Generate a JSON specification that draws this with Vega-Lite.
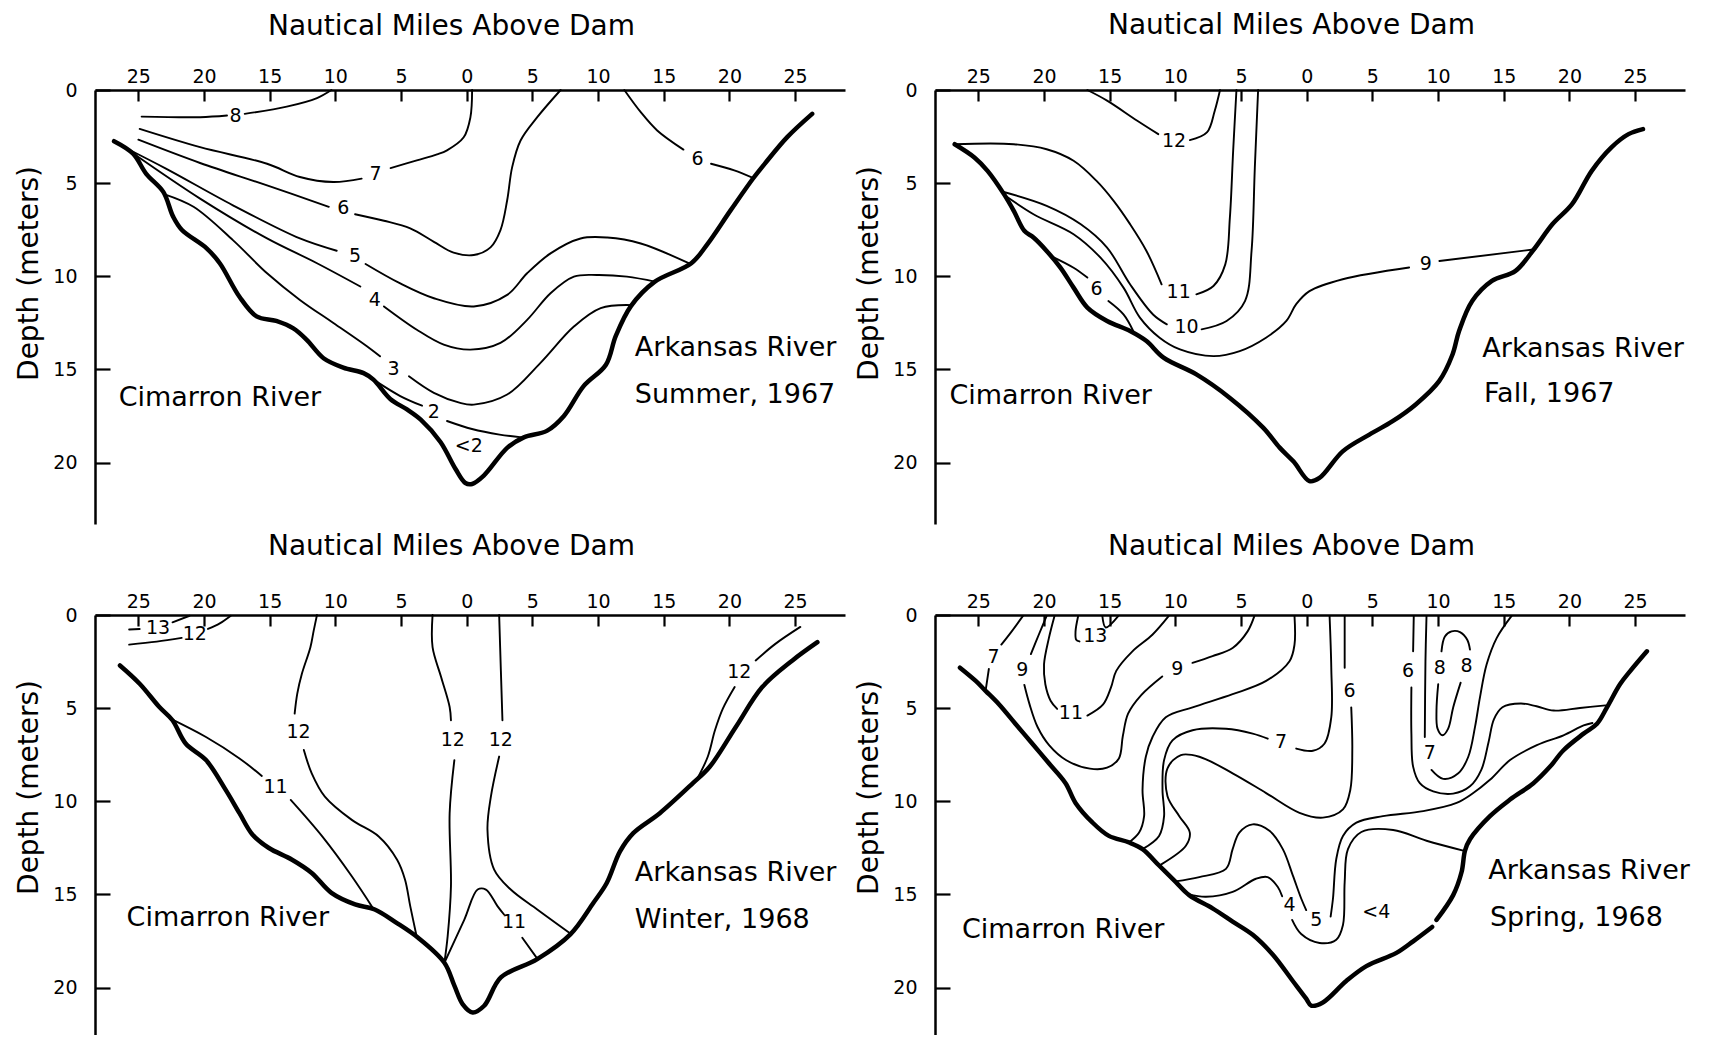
{
  "$schema": "https://vega.github.io/schema/vega-lite/v6.json",
  "padding": {"left": 15, "top": 11, "right": 5, "bottom": 0},
  "data": {"values": [
    {"p":"TL","k":"bed","s":"b","m":-26.85,"d":2.75},{"p":"TL","k":"bed","s":"b","m":-25.4,"d":3.42},{"p":"TL","k":"bed","s":"b","m":-24.4,"d":4.5},{"p":"TL","k":"bed","s":"b","m":-23.1,"d":5.47},{"p":"TL","k":"bed","s":"b","m":-22.35,"d":6.8},{"p":"TL","k":"bed","s":"b","m":-21.7,"d":7.5},{"p":"TL","k":"bed","s":"b","m":-19.8,"d":8.5},{"p":"TL","k":"bed","s":"b","m":-18.8,"d":9.3},{"p":"TL","k":"bed","s":"b","m":-17.3,"d":11.1},{"p":"TL","k":"bed","s":"b","m":-16.0,"d":12.15},{"p":"TL","k":"bed","s":"b","m":-14.5,"d":12.4},{"p":"TL","k":"bed","s":"b","m":-13.2,"d":12.8},{"p":"TL","k":"bed","s":"b","m":-12.2,"d":13.4},{"p":"TL","k":"bed","s":"b","m":-10.9,"d":14.4},{"p":"TL","k":"bed","s":"b","m":-9.4,"d":14.9},{"p":"TL","k":"bed","s":"b","m":-7.85,"d":15.2},{"p":"TL","k":"bed","s":"b","m":-7.1,"d":15.55},{"p":"TL","k":"bed","s":"b","m":-5.8,"d":16.6},{"p":"TL","k":"bed","s":"b","m":-4.55,"d":17.15},{"p":"TL","k":"bed","s":"b","m":-3.5,"d":17.7},{"p":"TL","k":"bed","s":"b","m":-2.0,"d":18.9},{"p":"TL","k":"bed","s":"b","m":-0.85,"d":20.35},{"p":"TL","k":"bed","s":"b","m":-0.1,"d":21.1},{"p":"TL","k":"bed","s":"b","m":0.41,"d":21.15},{"p":"TL","k":"bed","s":"b","m":1.3,"d":20.7},{"p":"TL","k":"bed","s":"b","m":3.1,"d":19.2},{"p":"TL","k":"bed","s":"b","m":4.35,"d":18.65},{"p":"TL","k":"bed","s":"b","m":6.1,"d":18.3},{"p":"TL","k":"bed","s":"b","m":7.4,"d":17.5},{"p":"TL","k":"bed","s":"b","m":8.9,"d":15.9},{"p":"TL","k":"bed","s":"b","m":10.6,"d":14.75},{"p":"TL","k":"bed","s":"b","m":11.35,"d":13.2},{"p":"TL","k":"bed","s":"b","m":12.5,"d":11.6},{"p":"TL","k":"bed","s":"b","m":14.3,"d":10.3},{"p":"TL","k":"bed","s":"b","m":17.1,"d":9.3},{"p":"TL","k":"bed","s":"b","m":18.3,"d":8.3},{"p":"TL","k":"bed","s":"b","m":20.1,"d":6.45},{"p":"TL","k":"bed","s":"b","m":21.8,"d":4.75},{"p":"TL","k":"bed","s":"b","m":22.7,"d":3.95},{"p":"TL","k":"bed","s":"b","m":24.4,"d":2.53},{"p":"TL","k":"bed","s":"b","m":26.3,"d":1.28},

    {"p":"TL","k":"ln","s":"8a","m":-24.75,"d":1.43},{"p":"TL","k":"ln","s":"8a","m":-20.3,"d":1.46},{"p":"TL","k":"ln","s":"8a","m":-18.25,"d":1.37},
    {"p":"TL","k":"lab","m":-17.6,"d":1.4,"t":"8"},
    {"p":"TL","k":"ln","s":"8b","m":-16.9,"d":1.28},{"p":"TL","k":"ln","s":"8b","m":-13.7,"d":0.89},{"p":"TL","k":"ln","s":"8b","m":-11.4,"d":0.43},{"p":"TL","k":"ln","s":"8b","m":-10.3,"d":0},
    {"p":"TL","k":"ln","s":"7a","m":-24.9,"d":2.09},{"p":"TL","k":"ln","s":"7a","m":-20.3,"d":3.07},{"p":"TL","k":"ln","s":"7a","m":-15.2,"d":3.96},{"p":"TL","k":"ln","s":"7a","m":-12.7,"d":4.67},{"p":"TL","k":"ln","s":"7a","m":-10.15,"d":4.94},{"p":"TL","k":"ln","s":"7a","m":-8.0,"d":4.76},
    {"p":"TL","k":"lab","m":-6.95,"d":4.5,"t":"7"},
    {"p":"TL","k":"ln","s":"7b","m":-5.8,"d":4.19},{"p":"TL","k":"ln","s":"7b","m":-3.8,"d":3.78},{"p":"TL","k":"ln","s":"7b","m":-2.26,"d":3.46},{"p":"TL","k":"ln","s":"7b","m":-1.5,"d":3.24},{"p":"TL","k":"ln","s":"7b","m":-0.23,"d":2.54},{"p":"TL","k":"ln","s":"7b","m":0.28,"d":1.47},{"p":"TL","k":"ln","s":"7b","m":0.41,"d":0},
    {"p":"TL","k":"ln","s":"6a","m":-25.0,"d":2.67},{"p":"TL","k":"ln","s":"6a","m":-20.3,"d":3.92},{"p":"TL","k":"ln","s":"6a","m":-15.2,"d":5.12},{"p":"TL","k":"ln","s":"6a","m":-10.5,"d":6.27},
    {"p":"TL","k":"lab","m":-9.4,"d":6.36,"t":"6"},
    {"p":"TL","k":"ln","s":"6b","m":-8.5,"d":6.67},{"p":"TL","k":"ln","s":"6b","m":-6.3,"d":7.02},{"p":"TL","k":"ln","s":"6b","m":-4.3,"d":7.43},{"p":"TL","k":"ln","s":"6b","m":-2.5,"d":8.15},{"p":"TL","k":"ln","s":"6b","m":-1.0,"d":8.73},{"p":"TL","k":"ln","s":"6b","m":0.54,"d":8.86},{"p":"TL","k":"ln","s":"6b","m":1.81,"d":8.45},{"p":"TL","k":"ln","s":"6b","m":2.57,"d":7.52},{"p":"TL","k":"ln","s":"6b","m":3.08,"d":5.92},{"p":"TL","k":"ln","s":"6b","m":3.46,"d":4.14},{"p":"TL","k":"ln","s":"6b","m":4.1,"d":2.71},{"p":"TL","k":"ln","s":"6b","m":5.37,"d":1.46},{"p":"TL","k":"ln","s":"6b","m":7.15,"d":0},
    {"p":"TL","k":"ln","s":"5a","m":-26.0,"d":3.1},{"p":"TL","k":"ln","s":"5a","m":-22.9,"d":4.22},{"p":"TL","k":"ln","s":"5a","m":-17.8,"d":6.19},{"p":"TL","k":"ln","s":"5a","m":-12.7,"d":7.97},{"p":"TL","k":"ln","s":"5a","m":-9.9,"d":8.63},
    {"p":"TL","k":"lab","m":-8.5,"d":8.9,"t":"5"},
    {"p":"TL","k":"ln","s":"5b","m":-7.7,"d":9.34},{"p":"TL","k":"ln","s":"5b","m":-5.1,"d":10.37},{"p":"TL","k":"ln","s":"5b","m":-2.5,"d":11.18},{"p":"TL","k":"ln","s":"5b","m":0.54,"d":11.62},{"p":"TL","k":"ln","s":"5b","m":3.08,"d":11.0},{"p":"TL","k":"ln","s":"5b","m":4.6,"d":9.84},{"p":"TL","k":"ln","s":"5b","m":6.38,"d":8.77},{"p":"TL","k":"ln","s":"5b","m":8.67,"d":7.97},{"p":"TL","k":"ln","s":"5b","m":10.7,"d":7.92},{"p":"TL","k":"ln","s":"5b","m":13.25,"d":8.24},{"p":"TL","k":"ln","s":"5b","m":16.9,"d":9.3},
    {"p":"TL","k":"ln","s":"4a","m":-25.3,"d":3.45},{"p":"TL","k":"ln","s":"4a","m":-20.3,"d":5.83},{"p":"TL","k":"ln","s":"4a","m":-15.2,"d":7.97},{"p":"TL","k":"ln","s":"4a","m":-11.4,"d":9.3},{"p":"TL","k":"ln","s":"4a","m":-8.1,"d":10.55},
    {"p":"TL","k":"lab","m":-7.0,"d":11.3,"t":"4"},
    {"p":"TL","k":"ln","s":"4b","m":-6.3,"d":11.62},{"p":"TL","k":"ln","s":"4b","m":-3.8,"d":12.87},{"p":"TL","k":"ln","s":"4b","m":-1.75,"d":13.67},{"p":"TL","k":"ln","s":"4b","m":0.28,"d":13.94},{"p":"TL","k":"ln","s":"4b","m":2.57,"d":13.58},{"p":"TL","k":"ln","s":"4b","m":4.6,"d":12.34},{"p":"TL","k":"ln","s":"4b","m":6.38,"d":10.91},{"p":"TL","k":"ln","s":"4b","m":8.16,"d":10.02},{"p":"TL","k":"ln","s":"4b","m":9.95,"d":9.93},{"p":"TL","k":"ln","s":"4b","m":12.2,"d":10.02},{"p":"TL","k":"ln","s":"4b","m":14.4,"d":10.3},
    {"p":"TL","k":"ln","s":"3a","m":-23.0,"d":5.6},{"p":"TL","k":"ln","s":"3a","m":-20.8,"d":6.27},{"p":"TL","k":"ln","s":"3a","m":-17.8,"d":8.06},{"p":"TL","k":"ln","s":"3a","m":-15.2,"d":9.84},{"p":"TL","k":"ln","s":"3a","m":-12.7,"d":11.27},{"p":"TL","k":"ln","s":"3a","m":-10.15,"d":12.51},{"p":"TL","k":"ln","s":"3a","m":-7.6,"d":13.76},{"p":"TL","k":"ln","s":"3a","m":-6.6,"d":14.3},
    {"p":"TL","k":"lab","m":-5.57,"d":15.0,"t":"3"},
    {"p":"TL","k":"ln","s":"3b","m":-4.4,"d":15.37},{"p":"TL","k":"ln","s":"3b","m":-2.5,"d":16.26},{"p":"TL","k":"ln","s":"3b","m":-0.5,"d":16.8},{"p":"TL","k":"ln","s":"3b","m":0.54,"d":16.89},{"p":"TL","k":"ln","s":"3b","m":3.08,"d":16.35},{"p":"TL","k":"ln","s":"3b","m":5.6,"d":14.66},{"p":"TL","k":"ln","s":"3b","m":8.16,"d":12.7},{"p":"TL","k":"ln","s":"3b","m":10.2,"d":11.71},{"p":"TL","k":"ln","s":"3b","m":12.6,"d":11.55},
    {"p":"TL","k":"ln","s":"2a","m":-7.1,"d":15.55},{"p":"TL","k":"ln","s":"2a","m":-5.06,"d":16.43},{"p":"TL","k":"ln","s":"2a","m":-3.4,"d":16.95},
    {"p":"TL","k":"lab","m":-2.5,"d":17.3,"t":"2"},
    {"p":"TL","k":"ln","s":"2b","m":-1.5,"d":17.77},{"p":"TL","k":"ln","s":"2b","m":0.4,"d":18.2},{"p":"TL","k":"ln","s":"2b","m":2.5,"d":18.5},{"p":"TL","k":"ln","s":"2b","m":4.2,"d":18.65},
    {"p":"TL","k":"lab","m":0.16,"d":19.1,"t":"<2"},
    {"p":"TL","k":"ln","s":"6Ra","m":12.0,"d":0},{"p":"TL","k":"ln","s":"6Ra","m":13.25,"d":1.19},{"p":"TL","k":"ln","s":"6Ra","m":14.5,"d":2.17},{"p":"TL","k":"ln","s":"6Ra","m":16.5,"d":3.2},
    {"p":"TL","k":"lab","m":17.57,"d":3.69,"t":"6"},
    {"p":"TL","k":"ln","s":"6Rb","m":18.6,"d":3.96},{"p":"TL","k":"ln","s":"6Rb","m":20.37,"d":4.31},{"p":"TL","k":"ln","s":"6Rb","m":21.8,"d":4.72},
    {"p":"TL","k":"txt","m":-26.5,"d":16.52,"t":"Cimarron River"},
    {"p":"TL","k":"txt","m":12.8,"d":13.85,"t":"Arkansas River"},
    {"p":"TL","k":"txt","m":12.8,"d":16.35,"t":"Summer, 1967"},

    {"p":"TR","k":"bed","s":"b","m":-26.8,"d":2.91},{"p":"TR","k":"bed","s":"b","m":-25.3,"d":3.62},{"p":"TR","k":"bed","s":"b","m":-24.3,"d":4.34},{"p":"TR","k":"bed","s":"b","m":-23.05,"d":5.59},{"p":"TR","k":"bed","s":"b","m":-22.3,"d":6.49},{"p":"TR","k":"bed","s":"b","m":-21.5,"d":7.56},{"p":"TR","k":"bed","s":"b","m":-20.8,"d":7.92},{"p":"TR","k":"bed","s":"b","m":-19.8,"d":8.64},{"p":"TR","k":"bed","s":"b","m":-18.75,"d":9.54},{"p":"TR","k":"bed","s":"b","m":-17.75,"d":10.61},{"p":"TR","k":"bed","s":"b","m":-16.7,"d":11.68},{"p":"TR","k":"bed","s":"b","m":-15.2,"d":12.4},{"p":"TR","k":"bed","s":"b","m":-13.45,"d":12.94},{"p":"TR","k":"bed","s":"b","m":-12.2,"d":13.48},{"p":"TR","k":"bed","s":"b","m":-10.9,"d":14.37},{"p":"TR","k":"bed","s":"b","m":-8.4,"d":15.27},{"p":"TR","k":"bed","s":"b","m":-5.85,"d":16.53},{"p":"TR","k":"bed","s":"b","m":-3.3,"d":18.14},{"p":"TR","k":"bed","s":"b","m":-2.06,"d":19.2},{"p":"TR","k":"bed","s":"b","m":-1.0,"d":19.95},{"p":"TR","k":"bed","s":"b","m":0.21,"d":21.0},{"p":"TR","k":"bed","s":"b","m":0.97,"d":20.83},{"p":"TR","k":"bed","s":"b","m":2.74,"d":19.4},{"p":"TR","k":"bed","s":"b","m":4.77,"d":18.5},{"p":"TR","k":"bed","s":"b","m":6.54,"d":17.78},{"p":"TR","k":"bed","s":"b","m":8.3,"d":16.88},{"p":"TR","k":"bed","s":"b","m":10.08,"d":15.63},{"p":"TR","k":"bed","s":"b","m":11.1,"d":14.2},{"p":"TR","k":"bed","s":"b","m":11.6,"d":12.94},{"p":"TR","k":"bed","s":"b","m":12.6,"d":11.33},{"p":"TR","k":"bed","s":"b","m":14.1,"d":10.25},{"p":"TR","k":"bed","s":"b","m":15.9,"d":9.71},{"p":"TR","k":"bed","s":"b","m":17.3,"d":8.55},{"p":"TR","k":"bed","s":"b","m":18.7,"d":7.21},{"p":"TR","k":"bed","s":"b","m":20.2,"d":6.13},{"p":"TR","k":"bed","s":"b","m":21.7,"d":4.34},{"p":"TR","k":"bed","s":"b","m":23.2,"d":3.08},{"p":"TR","k":"bed","s":"b","m":24.5,"d":2.37},{"p":"TR","k":"bed","s":"b","m":25.6,"d":2.1},

    {"p":"TR","k":"ln","s":"12a","m":-16.7,"d":0},{"p":"TR","k":"ln","s":"12a","m":-15.2,"d":0.57},{"p":"TR","k":"ln","s":"12a","m":-12.9,"d":1.65},{"p":"TR","k":"ln","s":"12a","m":-11.3,"d":2.37},
    {"p":"TR","k":"lab","m":-10.1,"d":2.73,"t":"12"},
    {"p":"TR","k":"ln","s":"12b","m":-8.9,"d":2.69},{"p":"TR","k":"ln","s":"12b","m":-7.6,"d":2.28},{"p":"TR","k":"ln","s":"12b","m":-7.0,"d":1.11},{"p":"TR","k":"ln","s":"12b","m":-6.6,"d":0},
    {"p":"TR","k":"ln","s":"11a","m":-26.8,"d":2.91},{"p":"TR","k":"ln","s":"11a","m":-22.3,"d":2.91},{"p":"TR","k":"ln","s":"11a","m":-19.8,"d":3.18},{"p":"TR","k":"ln","s":"11a","m":-17.75,"d":3.8},{"p":"TR","k":"ln","s":"11a","m":-16.0,"d":4.88},{"p":"TR","k":"ln","s":"11a","m":-14.7,"d":5.95},{"p":"TR","k":"ln","s":"11a","m":-13.45,"d":7.2},{"p":"TR","k":"ln","s":"11a","m":-12.2,"d":8.64},{"p":"TR","k":"ln","s":"11a","m":-11.05,"d":10.43},
    {"p":"TR","k":"lab","m":-9.75,"d":10.85,"t":"11"},
    {"p":"TR","k":"ln","s":"11b","m":-8.4,"d":10.97},{"p":"TR","k":"ln","s":"11b","m":-7.1,"d":10.52},{"p":"TR","k":"ln","s":"11b","m":-6.2,"d":9.36},{"p":"TR","k":"ln","s":"11b","m":-5.85,"d":6.85},{"p":"TR","k":"ln","s":"11b","m":-5.6,"d":3.26},{"p":"TR","k":"ln","s":"11b","m":-5.35,"d":0},
    {"p":"TR","k":"ln","s":"10a","m":-23.2,"d":5.45},{"p":"TR","k":"ln","s":"10a","m":-19.8,"d":6.22},{"p":"TR","k":"ln","s":"10a","m":-17.2,"d":7.21},{"p":"TR","k":"ln","s":"10a","m":-15.2,"d":8.46},{"p":"TR","k":"ln","s":"10a","m":-13.45,"d":10.43},{"p":"TR","k":"ln","s":"10a","m":-11.7,"d":12.05},{"p":"TR","k":"ln","s":"10a","m":-10.65,"d":12.58},
    {"p":"TR","k":"lab","m":-9.15,"d":12.7,"t":"10"},
    {"p":"TR","k":"ln","s":"10b","m":-8.0,"d":12.85},{"p":"TR","k":"ln","s":"10b","m":-6.1,"d":12.4},{"p":"TR","k":"ln","s":"10b","m":-4.7,"d":11.33},{"p":"TR","k":"ln","s":"10b","m":-4.2,"d":8.64},{"p":"TR","k":"ln","s":"10b","m":-3.95,"d":4.16},{"p":"TR","k":"ln","s":"10b","m":-3.7,"d":0},
    {"p":"TR","k":"ln","s":"9a","m":-23.1,"d":5.6},{"p":"TR","k":"ln","s":"9a","m":-20.8,"d":6.67},{"p":"TR","k":"ln","s":"9a","m":-17.75,"d":7.74},{"p":"TR","k":"ln","s":"9a","m":-15.7,"d":9.0},{"p":"TR","k":"ln","s":"9a","m":-13.95,"d":10.61},{"p":"TR","k":"ln","s":"9a","m":-12.7,"d":12.22},{"p":"TR","k":"ln","s":"9a","m":-11.2,"d":13.3},{"p":"TR","k":"ln","s":"9a","m":-9.65,"d":13.93},{"p":"TR","k":"ln","s":"9a","m":-7.1,"d":14.29},{"p":"TR","k":"ln","s":"9a","m":-5.1,"d":14.02},{"p":"TR","k":"ln","s":"9a","m":-3.1,"d":13.3},{"p":"TR","k":"ln","s":"9a","m":-1.55,"d":12.4},{"p":"TR","k":"ln","s":"9a","m":-0.8,"d":11.5},{"p":"TR","k":"ln","s":"9a","m":0.21,"d":10.8},{"p":"TR","k":"ln","s":"9a","m":2.74,"d":10.16},{"p":"TR","k":"ln","s":"9a","m":7.8,"d":9.53},
    {"p":"TR","k":"lab","m":9.07,"d":9.36,"t":"9"},
    {"p":"TR","k":"ln","s":"9b","m":10.1,"d":9.18},{"p":"TR","k":"ln","s":"9b","m":17.4,"d":8.55},
    {"p":"TR","k":"ln","s":"6a","m":-19.5,"d":8.9},{"p":"TR","k":"ln","s":"6a","m":-17.75,"d":9.54},{"p":"TR","k":"ln","s":"6a","m":-16.7,"d":10.07},
    {"p":"TR","k":"lab","m":-16.0,"d":10.7,"t":"6"},
    {"p":"TR","k":"ln","s":"6b","m":-15.1,"d":11.33},{"p":"TR","k":"ln","s":"6b","m":-13.95,"d":12.05},{"p":"TR","k":"ln","s":"6b","m":-13.2,"d":12.95},
    {"p":"TR","k":"txt","m":-27.2,"d":16.44,"t":"Cimarron River"},
    {"p":"TR","k":"txt","m":13.37,"d":13.92,"t":"Arkansas River"},
    {"p":"TR","k":"txt","m":13.5,"d":16.34,"t":"Fall, 1967"},

    {"p":"BL","k":"bed","s":"b","m":-26.4,"d":2.71},{"p":"BL","k":"bed","s":"b","m":-24.9,"d":3.69},{"p":"BL","k":"bed","s":"b","m":-23.4,"d":4.94},{"p":"BL","k":"bed","s":"b","m":-22.4,"d":5.65},{"p":"BL","k":"bed","s":"b","m":-21.4,"d":6.9},{"p":"BL","k":"bed","s":"b","m":-19.85,"d":7.79},{"p":"BL","k":"bed","s":"b","m":-18.35,"d":9.39},{"p":"BL","k":"bed","s":"b","m":-17.3,"d":10.64},{"p":"BL","k":"bed","s":"b","m":-16.3,"d":11.8},{"p":"BL","k":"bed","s":"b","m":-15.06,"d":12.51},{"p":"BL","k":"bed","s":"b","m":-13.3,"d":13.14},{"p":"BL","k":"bed","s":"b","m":-11.8,"d":13.85},{"p":"BL","k":"bed","s":"b","m":-10.3,"d":14.92},{"p":"BL","k":"bed","s":"b","m":-8.5,"d":15.54},{"p":"BL","k":"bed","s":"b","m":-7.0,"d":15.81},{"p":"BL","k":"bed","s":"b","m":-5.4,"d":16.5},{"p":"BL","k":"bed","s":"b","m":-3.7,"d":17.33},{"p":"BL","k":"bed","s":"b","m":-1.7,"d":18.67},{"p":"BL","k":"bed","s":"b","m":-0.94,"d":19.9},{"p":"BL","k":"bed","s":"b","m":-0.3,"d":20.9},{"p":"BL","k":"bed","s":"b","m":0.45,"d":21.34},{"p":"BL","k":"bed","s":"b","m":1.33,"d":20.98},{"p":"BL","k":"bed","s":"b","m":2.6,"d":19.46},{"p":"BL","k":"bed","s":"b","m":5.37,"d":18.48},{"p":"BL","k":"bed","s":"b","m":7.89,"d":17.15},{"p":"BL","k":"bed","s":"b","m":9.65,"d":15.45},{"p":"BL","k":"bed","s":"b","m":10.66,"d":14.39},{"p":"BL","k":"bed","s":"b","m":11.67,"d":12.69},{"p":"BL","k":"bed","s":"b","m":12.68,"d":11.71},{"p":"BL","k":"bed","s":"b","m":14.7,"d":10.64},{"p":"BL","k":"bed","s":"b","m":17.2,"d":9.04},{"p":"BL","k":"bed","s":"b","m":18.5,"d":8.15},{"p":"BL","k":"bed","s":"b","m":20.5,"d":6.0},{"p":"BL","k":"bed","s":"b","m":22.5,"d":3.87},{"p":"BL","k":"bed","s":"b","m":24.8,"d":2.44},{"p":"BL","k":"bed","s":"b","m":26.7,"d":1.46},

    {"p":"BL","k":"ln","s":"13a","m":-25.7,"d":0.78},{"p":"BL","k":"ln","s":"13a","m":-24.9,"d":0.75},
    {"p":"BL","k":"lab","m":-23.5,"d":0.68,"t":"13"},
    {"p":"BL","k":"ln","s":"13b","m":-22.4,"d":0.39},{"p":"BL","k":"ln","s":"13b","m":-21.1,"d":0.04},
    {"p":"BL","k":"ln","s":"12aa","m":-25.7,"d":1.59},{"p":"BL","k":"ln","s":"12aa","m":-23.6,"d":1.43},{"p":"BL","k":"ln","s":"12aa","m":-21.7,"d":1.23},
    {"p":"BL","k":"lab","m":-20.7,"d":1.0,"t":"12"},
    {"p":"BL","k":"ln","s":"12ab","m":-19.7,"d":0.75},{"p":"BL","k":"ln","s":"12ab","m":-18.8,"d":0.45},{"p":"BL","k":"ln","s":"12ab","m":-17.96,"d":0.04},
    {"p":"BL","k":"ln","s":"11a","m":-22.6,"d":5.55},{"p":"BL","k":"ln","s":"11a","m":-19.85,"d":6.55},{"p":"BL","k":"ln","s":"11a","m":-17.3,"d":7.7},{"p":"BL","k":"ln","s":"11a","m":-15.6,"d":8.64},
    {"p":"BL","k":"lab","m":-14.55,"d":9.22,"t":"11"},
    {"p":"BL","k":"ln","s":"11b","m":-13.4,"d":9.93},{"p":"BL","k":"ln","s":"11b","m":-11.0,"d":11.89},{"p":"BL","k":"ln","s":"11b","m":-8.75,"d":14.03},{"p":"BL","k":"ln","s":"11b","m":-7.1,"d":15.78},
    {"p":"BL","k":"ln","s":"12ba","m":-11.4,"d":0},{"p":"BL","k":"ln","s":"12ba","m":-11.65,"d":0.84},{"p":"BL","k":"ln","s":"12ba","m":-11.9,"d":1.73},{"p":"BL","k":"ln","s":"12ba","m":-12.55,"d":3.16},{"p":"BL","k":"ln","s":"12ba","m":-12.9,"d":4.22},{"p":"BL","k":"ln","s":"12ba","m":-13.1,"d":5.29},
    {"p":"BL","k":"lab","m":-12.8,"d":6.27,"t":"12"},
    {"p":"BL","k":"ln","s":"12bb","m":-12.4,"d":7.25},{"p":"BL","k":"ln","s":"12bb","m":-11.8,"d":8.5},{"p":"BL","k":"ln","s":"12bb","m":-10.8,"d":9.75},{"p":"BL","k":"ln","s":"12bb","m":-8.75,"d":11.0},{"p":"BL","k":"ln","s":"12bb","m":-6.7,"d":11.89},{"p":"BL","k":"ln","s":"12bb","m":-5.3,"d":13.14},{"p":"BL","k":"ln","s":"12bb","m":-4.7,"d":14.2},{"p":"BL","k":"ln","s":"12bb","m":-4.3,"d":15.63},{"p":"BL","k":"ln","s":"12bb","m":-3.8,"d":17.3},
    {"p":"BL","k":"ln","s":"12ca","m":-2.6,"d":0},{"p":"BL","k":"ln","s":"12ca","m":-2.6,"d":1.73},{"p":"BL","k":"ln","s":"12ca","m":-1.95,"d":3.33},{"p":"BL","k":"ln","s":"12ca","m":-1.3,"d":4.94},{"p":"BL","k":"ln","s":"12ca","m":-1.2,"d":5.65},
    {"p":"BL","k":"lab","m":-1.06,"d":6.72,"t":"12"},
    {"p":"BL","k":"ln","s":"12cb","m":-0.94,"d":7.79},{"p":"BL","k":"ln","s":"12cb","m":-1.3,"d":10.64},{"p":"BL","k":"ln","s":"12cb","m":-1.2,"d":14.56},{"p":"BL","k":"ln","s":"12cb","m":-1.45,"d":17.24},{"p":"BL","k":"ln","s":"12cb","m":-1.7,"d":18.67},
    {"p":"BL","k":"ln","s":"12da","m":2.47,"d":0},{"p":"BL","k":"ln","s":"12da","m":2.6,"d":2.98},{"p":"BL","k":"ln","s":"12da","m":2.72,"d":5.65},
    {"p":"BL","k":"lab","m":2.6,"d":6.72,"t":"12"},
    {"p":"BL","k":"ln","s":"12db","m":2.47,"d":7.6},{"p":"BL","k":"ln","s":"12db","m":1.84,"d":9.75},{"p":"BL","k":"ln","s":"12db","m":1.58,"d":11.53},{"p":"BL","k":"ln","s":"12db","m":2.09,"d":13.67},{"p":"BL","k":"ln","s":"12db","m":3.35,"d":14.74},{"p":"BL","k":"ln","s":"12db","m":5.37,"d":15.81},{"p":"BL","k":"ln","s":"12db","m":7.89,"d":17.1},
    {"p":"BL","k":"ln","s":"11ca","m":-1.7,"d":18.67},{"p":"BL","k":"ln","s":"11ca","m":-0.18,"d":16.35},{"p":"BL","k":"ln","s":"11ca","m":0.83,"d":14.74},{"p":"BL","k":"ln","s":"11ca","m":1.46,"d":14.74},{"p":"BL","k":"ln","s":"11ca","m":2.34,"d":15.63},{"p":"BL","k":"ln","s":"11ca","m":2.84,"d":16.08},
    {"p":"BL","k":"lab","m":3.6,"d":16.5,"t":"11"},
    {"p":"BL","k":"ln","s":"11cb","m":4.23,"d":17.33},{"p":"BL","k":"ln","s":"11cb","m":5.37,"d":18.45},
    {"p":"BL","k":"ln","s":"12ea","m":25.4,"d":0.64},{"p":"BL","k":"ln","s":"12ea","m":23.5,"d":1.55},{"p":"BL","k":"ln","s":"12ea","m":22.0,"d":2.44},
    {"p":"BL","k":"lab","m":20.75,"d":3.07,"t":"12"},
    {"p":"BL","k":"ln","s":"12eb","m":20.4,"d":3.87},{"p":"BL","k":"ln","s":"12eb","m":19.5,"d":5.03},{"p":"BL","k":"ln","s":"12eb","m":18.9,"d":6.19},{"p":"BL","k":"ln","s":"12eb","m":18.35,"d":7.61},{"p":"BL","k":"ln","s":"12eb","m":17.5,"d":8.86},
    {"p":"BL","k":"txt","m":-25.9,"d":16.26,"t":"Cimarron River"},
    {"p":"BL","k":"txt","m":12.8,"d":13.85,"t":"Arkansas River"},
    {"p":"BL","k":"txt","m":12.8,"d":16.35,"t":"Winter, 1968"},

    {"p":"BR","k":"bed","s":"b1","m":-26.4,"d":2.83},{"p":"BR","k":"bed","s":"b1","m":-25.2,"d":3.54},{"p":"BR","k":"bed","s":"b1","m":-24.45,"d":4.07},{"p":"BR","k":"bed","s":"b1","m":-23.45,"d":4.78},{"p":"BR","k":"bed","s":"b1","m":-22.18,"d":5.84},{"p":"BR","k":"bed","s":"b1","m":-20.9,"d":6.9},{"p":"BR","k":"bed","s":"b1","m":-19.63,"d":7.96},{"p":"BR","k":"bed","s":"b1","m":-18.36,"d":9.03},{"p":"BR","k":"bed","s":"b1","m":-17.6,"d":10.09},{"p":"BR","k":"bed","s":"b1","m":-16.3,"d":11.15},{"p":"BR","k":"bed","s":"b1","m":-15.06,"d":11.86},{"p":"BR","k":"bed","s":"b1","m":-13.53,"d":12.21},{"p":"BR","k":"bed","s":"b1","m":-12.5,"d":12.57},{"p":"BR","k":"bed","s":"b1","m":-11.24,"d":13.45},{"p":"BR","k":"bed","s":"b1","m":-9.96,"d":14.34},{"p":"BR","k":"bed","s":"b1","m":-8.95,"d":15.04},{"p":"BR","k":"bed","s":"b1","m":-7.17,"d":15.75},{"p":"BR","k":"bed","s":"b1","m":-5.64,"d":16.46},{"p":"BR","k":"bed","s":"b1","m":-4.11,"d":17.17},{"p":"BR","k":"bed","s":"b1","m":-2.59,"d":18.23},{"p":"BR","k":"bed","s":"b1","m":-1.06,"d":19.65},{"p":"BR","k":"bed","s":"b1","m":-0.04,"d":20.6},{"p":"BR","k":"bed","s":"b1","m":0.34,"d":20.97},{"p":"BR","k":"bed","s":"b1","m":1.23,"d":20.8},{"p":"BR","k":"bed","s":"b1","m":3.01,"d":19.65},{"p":"BR","k":"bed","s":"b1","m":4.54,"d":18.85},{"p":"BR","k":"bed","s":"b1","m":6.83,"d":18.14},{"p":"BR","k":"bed","s":"b1","m":8.1,"d":17.52},{"p":"BR","k":"bed","s":"b1","m":9.55,"d":16.75},
    {"p":"BR","k":"bed","s":"b2","m":9.88,"d":16.37},{"p":"BR","k":"bed","s":"b2","m":11.15,"d":15.04},{"p":"BR","k":"bed","s":"b2","m":11.79,"d":13.8},{"p":"BR","k":"bed","s":"b2","m":12.05,"d":12.65},{"p":"BR","k":"bed","s":"b2","m":12.43,"d":12.04},{"p":"BR","k":"bed","s":"b2","m":13.95,"d":10.8},{"p":"BR","k":"bed","s":"b2","m":15.48,"d":9.91},{"p":"BR","k":"bed","s":"b2","m":17.26,"d":9.03},{"p":"BR","k":"bed","s":"b2","m":18.53,"d":8.14},{"p":"BR","k":"bed","s":"b2","m":19.55,"d":7.26},{"p":"BR","k":"bed","s":"b2","m":21.08,"d":6.37},{"p":"BR","k":"bed","s":"b2","m":22.1,"d":5.84},{"p":"BR","k":"bed","s":"b2","m":22.86,"d":4.96},{"p":"BR","k":"bed","s":"b2","m":23.85,"d":3.72},{"p":"BR","k":"bed","s":"b2","m":24.64,"d":3.0},{"p":"BR","k":"bed","s":"b2","m":25.9,"d":1.95},

    {"p":"BR","k":"ln","s":"7La","m":-21.6,"d":0.05},{"p":"BR","k":"ln","s":"7La","m":-22.56,"d":0.97},{"p":"BR","k":"ln","s":"7La","m":-23.25,"d":1.59},
    {"p":"BR","k":"lab","m":-23.85,"d":2.25,"t":"7"},
    {"p":"BR","k":"ln","s":"7Lb","m":-24.2,"d":2.9},{"p":"BR","k":"ln","s":"7Lb","m":-24.45,"d":4.07},
    {"p":"BR","k":"ln","s":"9a","m":-19.8,"d":0.05},{"p":"BR","k":"ln","s":"9a","m":-20.4,"d":1.06},{"p":"BR","k":"ln","s":"9a","m":-21.0,"d":2.1},
    {"p":"BR","k":"lab","m":-21.65,"d":2.95,"t":"9"},
    {"p":"BR","k":"ln","s":"9b","m":-21.5,"d":3.75},{"p":"BR","k":"ln","s":"9b","m":-21.1,"d":4.8},{"p":"BR","k":"ln","s":"9b","m":-20.5,"d":6.0},{"p":"BR","k":"ln","s":"9b","m":-19.6,"d":7.0},{"p":"BR","k":"ln","s":"9b","m":-18.3,"d":7.8},{"p":"BR","k":"ln","s":"9b","m":-16.5,"d":8.25},{"p":"BR","k":"ln","s":"9b","m":-15.2,"d":8.2},{"p":"BR","k":"ln","s":"9b","m":-14.3,"d":7.7},{"p":"BR","k":"ln","s":"9b","m":-14.0,"d":6.5},{"p":"BR","k":"ln","s":"9b","m":-13.6,"d":5.3},{"p":"BR","k":"ln","s":"9b","m":-12.6,"d":4.3},{"p":"BR","k":"ln","s":"9b","m":-11.0,"d":3.3},
    {"p":"BR","k":"lab","m":-9.85,"d":2.92,"t":"9"},
    {"p":"BR","k":"ln","s":"9c","m":-8.7,"d":2.57},{"p":"BR","k":"ln","s":"9c","m":-7.17,"d":2.21},{"p":"BR","k":"ln","s":"9c","m":-5.64,"d":1.77},{"p":"BR","k":"ln","s":"9c","m":-4.5,"d":0.88},{"p":"BR","k":"ln","s":"9c","m":-3.98,"d":0.05},
    {"p":"BR","k":"ln","s":"11a","m":-19.2,"d":0.05},{"p":"BR","k":"ln","s":"11a","m":-19.63,"d":1.24},{"p":"BR","k":"ln","s":"11a","m":-20.0,"d":2.65},{"p":"BR","k":"ln","s":"11a","m":-19.9,"d":3.72},{"p":"BR","k":"ln","s":"11a","m":-19.5,"d":4.6},{"p":"BR","k":"ln","s":"11a","m":-19.0,"d":5.04},
    {"p":"BR","k":"lab","m":-17.95,"d":5.25,"t":"11"},
    {"p":"BR","k":"ln","s":"11b","m":-16.7,"d":5.4},{"p":"BR","k":"ln","s":"11b","m":-15.5,"d":4.8},{"p":"BR","k":"ln","s":"11b","m":-14.9,"d":3.89},{"p":"BR","k":"ln","s":"11b","m":-14.5,"d":3.0},{"p":"BR","k":"ln","s":"11b","m":-13.27,"d":1.95},{"p":"BR","k":"ln","s":"11b","m":-11.75,"d":1.06},{"p":"BR","k":"ln","s":"11b","m":-10.5,"d":0.05},
    {"p":"BR","k":"ln","s":"13a","m":-17.4,"d":0.05},{"p":"BR","k":"ln","s":"13a","m":-17.6,"d":0.88},{"p":"BR","k":"ln","s":"13a","m":-17.55,"d":1.33},{"p":"BR","k":"ln","s":"13a","m":-17.3,"d":1.42},
    {"p":"BR","k":"lab","m":-16.1,"d":1.15,"t":"13"},
    {"p":"BR","k":"ln","s":"13b","m":-15.56,"d":0.05},{"p":"BR","k":"ln","s":"13b","m":-15.3,"d":0.67},{"p":"BR","k":"ln","s":"13b","m":-14.34,"d":0.05},
    {"p":"BR","k":"ln","s":"8","m":-0.93,"d":0.05},{"p":"BR","k":"ln","s":"8","m":-0.93,"d":1.59},{"p":"BR","k":"ln","s":"8","m":-1.31,"d":2.48},{"p":"BR","k":"ln","s":"8","m":-3.09,"d":3.54},{"p":"BR","k":"ln","s":"8","m":-5.64,"d":4.25},{"p":"BR","k":"ln","s":"8","m":-8.69,"d":4.96},{"p":"BR","k":"ln","s":"8","m":-10.73,"d":5.49},{"p":"BR","k":"ln","s":"8","m":-11.74,"d":6.55},{"p":"BR","k":"ln","s":"8","m":-12.25,"d":7.61},{"p":"BR","k":"ln","s":"8","m":-12.5,"d":9.38},{"p":"BR","k":"ln","s":"8","m":-12.38,"d":10.8},{"p":"BR","k":"ln","s":"8","m":-12.76,"d":11.68},{"p":"BR","k":"ln","s":"8","m":-13.53,"d":12.21},
    {"p":"BR","k":"ln","s":"7Ma","m":-12.5,"d":12.57},{"p":"BR","k":"ln","s":"7Ma","m":-11.24,"d":11.86},{"p":"BR","k":"ln","s":"7Ma","m":-10.86,"d":10.8},{"p":"BR","k":"ln","s":"7Ma","m":-10.98,"d":9.38},{"p":"BR","k":"ln","s":"7Ma","m":-10.86,"d":7.79},{"p":"BR","k":"ln","s":"7Ma","m":-10.22,"d":6.73},{"p":"BR","k":"ln","s":"7Ma","m":-8.69,"d":6.19},{"p":"BR","k":"ln","s":"7Ma","m":-6.15,"d":6.11},{"p":"BR","k":"ln","s":"7Ma","m":-4.11,"d":6.37},{"p":"BR","k":"ln","s":"7Ma","m":-2.97,"d":6.64},
    {"p":"BR","k":"lab","m":-1.95,"d":6.81,"t":"7"},
    {"p":"BR","k":"ln","s":"7Mb","m":-0.8,"d":7.17},{"p":"BR","k":"ln","s":"7Mb","m":0.47,"d":7.29},{"p":"BR","k":"ln","s":"7Mb","m":1.36,"d":6.9},{"p":"BR","k":"ln","s":"7Mb","m":1.87,"d":5.49},{"p":"BR","k":"ln","s":"7Mb","m":1.87,"d":2.83},{"p":"BR","k":"ln","s":"7Mb","m":1.74,"d":0.05},
    {"p":"BR","k":"ln","s":"6Ma","m":2.89,"d":0.05},{"p":"BR","k":"ln","s":"6Ma","m":2.89,"d":2.83},
    {"p":"BR","k":"lab","m":3.27,"d":4.07,"t":"6"},
    {"p":"BR","k":"ln","s":"6Mb","m":3.39,"d":4.96},{"p":"BR","k":"ln","s":"6Mb","m":3.47,"d":7.26},{"p":"BR","k":"ln","s":"6Mb","m":3.32,"d":9.38},{"p":"BR","k":"ln","s":"6Mb","m":2.76,"d":10.44},{"p":"BR","k":"ln","s":"6Mb","m":1.23,"d":10.88},{"p":"BR","k":"ln","s":"6Mb","m":-0.55,"d":10.62},{"p":"BR","k":"ln","s":"6Mb","m":-3.09,"d":9.56},{"p":"BR","k":"ln","s":"6Mb","m":-5.64,"d":8.5},{"p":"BR","k":"ln","s":"6Mb","m":-8.18,"d":7.61},{"p":"BR","k":"ln","s":"6Mb","m":-9.58,"d":7.52},{"p":"BR","k":"ln","s":"6Mb","m":-10.6,"d":8.23},{"p":"BR","k":"ln","s":"6Mb","m":-10.6,"d":9.73},{"p":"BR","k":"ln","s":"6Mb","m":-9.7,"d":10.8},{"p":"BR","k":"ln","s":"6Mb","m":-8.9,"d":11.68},{"p":"BR","k":"ln","s":"6Mb","m":-9.2,"d":12.39},{"p":"BR","k":"ln","s":"6Mb","m":-11.1,"d":13.4},
    {"p":"BR","k":"ln","s":"5a","m":-10.0,"d":14.3},{"p":"BR","k":"ln","s":"5a","m":-8.18,"d":14.07},{"p":"BR","k":"ln","s":"5a","m":-6.15,"d":13.63},{"p":"BR","k":"ln","s":"5a","m":-5.64,"d":12.57},{"p":"BR","k":"ln","s":"5a","m":-5.13,"d":11.68},{"p":"BR","k":"ln","s":"5a","m":-4.11,"d":11.24},{"p":"BR","k":"ln","s":"5a","m":-2.84,"d":11.59},{"p":"BR","k":"ln","s":"5a","m":-1.82,"d":12.57},{"p":"BR","k":"ln","s":"5a","m":-1.06,"d":13.98},{"p":"BR","k":"ln","s":"5a","m":-0.42,"d":15.22},{"p":"BR","k":"ln","s":"5a","m":-0.04,"d":15.84},
    {"p":"BR","k":"lab","m":0.72,"d":16.37,"t":"5"},
    {"p":"BR","k":"ln","s":"5b","m":1.82,"d":16.19},{"p":"BR","k":"ln","s":"5b","m":2.0,"d":15.22},{"p":"BR","k":"ln","s":"5b","m":2.25,"d":13.1},{"p":"BR","k":"ln","s":"5b","m":2.76,"d":11.86},{"p":"BR","k":"ln","s":"5b","m":3.78,"d":11.15},{"p":"BR","k":"ln","s":"5b","m":5.8,"d":10.8},{"p":"BR","k":"ln","s":"5b","m":8.87,"d":10.53},{"p":"BR","k":"ln","s":"5b","m":11.41,"d":10.09},{"p":"BR","k":"ln","s":"5b","m":12.6,"d":9.6},{"p":"BR","k":"ln","s":"5b","m":13.95,"d":8.85},{"p":"BR","k":"ln","s":"5b","m":15.48,"d":7.79},{"p":"BR","k":"ln","s":"5b","m":17.52,"d":6.99},{"p":"BR","k":"ln","s":"5b","m":19.55,"d":6.46},{"p":"BR","k":"ln","s":"5b","m":21.08,"d":5.93},{"p":"BR","k":"ln","s":"5b","m":21.75,"d":5.8},
    {"p":"BR","k":"ln","s":"4a","m":-9.0,"d":15.0},{"p":"BR","k":"ln","s":"4a","m":-7.67,"d":15.13},{"p":"BR","k":"ln","s":"4a","m":-5.64,"d":14.87},{"p":"BR","k":"ln","s":"4a","m":-3.86,"d":14.16},{"p":"BR","k":"ln","s":"4a","m":-2.97,"d":14.07},{"p":"BR","k":"ln","s":"4a","m":-2.2,"d":14.6},{"p":"BR","k":"ln","s":"4a","m":-1.87,"d":15.1},
    {"p":"BR","k":"lab","m":-1.31,"d":15.58,"t":"4"},
    {"p":"BR","k":"ln","s":"4b","m":-1.11,"d":16.37},{"p":"BR","k":"ln","s":"4b","m":-0.42,"d":17.13},{"p":"BR","k":"ln","s":"4b","m":0.98,"d":17.61},{"p":"BR","k":"ln","s":"4b","m":2.25,"d":17.43},{"p":"BR","k":"ln","s":"4b","m":2.76,"d":16.64},{"p":"BR","k":"ln","s":"4b","m":2.89,"d":14.34},{"p":"BR","k":"ln","s":"4b","m":3.14,"d":12.57},{"p":"BR","k":"ln","s":"4b","m":4.16,"d":11.65},{"p":"BR","k":"ln","s":"4b","m":6.58,"d":11.54},{"p":"BR","k":"ln","s":"4b","m":9.12,"d":12.12},{"p":"BR","k":"ln","s":"4b","m":11.92,"d":12.65},
    {"p":"BR","k":"lab","m":5.3,"d":15.93,"t":"<4"},
    {"p":"BR","k":"ln","s":"6Ua","m":8.15,"d":0.05},{"p":"BR","k":"ln","s":"6Ua","m":8.1,"d":1.95},
    {"p":"BR","k":"lab","m":7.72,"d":3.0,"t":"6"},
    {"p":"BR","k":"ln","s":"6Ub","m":7.97,"d":3.89},{"p":"BR","k":"ln","s":"6Ub","m":7.97,"d":6.37},{"p":"BR","k":"ln","s":"6Ub","m":8.1,"d":8.14},{"p":"BR","k":"ln","s":"6Ub","m":8.61,"d":9.03},{"p":"BR","k":"ln","s":"6Ub","m":9.63,"d":9.47},{"p":"BR","k":"ln","s":"6Ub","m":11.15,"d":9.59},{"p":"BR","k":"ln","s":"6Ub","m":12.43,"d":9.2},{"p":"BR","k":"ln","s":"6Ub","m":13.3,"d":8.3},{"p":"BR","k":"ln","s":"6Ub","m":13.85,"d":6.8},{"p":"BR","k":"ln","s":"6Ub","m":14.25,"d":5.6},{"p":"BR","k":"ln","s":"6Ub","m":14.9,"d":4.95},{"p":"BR","k":"ln","s":"6Ub","m":16.3,"d":4.75},{"p":"BR","k":"ln","s":"6Ub","m":17.5,"d":4.9},{"p":"BR","k":"ln","s":"6Ub","m":18.8,"d":5.13},{"p":"BR","k":"ln","s":"6Ub","m":20.8,"d":4.99},{"p":"BR","k":"ln","s":"6Ub","m":22.75,"d":4.85},
    {"p":"BR","k":"ln","s":"7Ia","m":9.12,"d":0.05},{"p":"BR","k":"ln","s":"7Ia","m":9.04,"d":2.48},{"p":"BR","k":"ln","s":"7Ia","m":8.99,"d":6.55},
    {"p":"BR","k":"lab","m":9.37,"d":7.43,"t":"7"},
    {"p":"BR","k":"ln","s":"7Ib","m":9.5,"d":8.32},{"p":"BR","k":"ln","s":"7Ib","m":10.39,"d":8.8},{"p":"BR","k":"ln","s":"7Ib","m":11.54,"d":8.5},{"p":"BR","k":"ln","s":"7Ib","m":12.3,"d":7.61},{"p":"BR","k":"ln","s":"7Ib","m":12.81,"d":6.02},{"p":"BR","k":"ln","s":"7Ib","m":13.19,"d":4.42},{"p":"BR","k":"ln","s":"7Ib","m":13.7,"d":2.65},{"p":"BR","k":"ln","s":"7Ib","m":14.46,"d":1.24},{"p":"BR","k":"ln","s":"7Ib","m":15.6,"d":0.05},
    {"p":"BR","k":"ln","s":"8La","m":10.26,"d":1.95},{"p":"BR","k":"ln","s":"8La","m":10.52,"d":1.15},{"p":"BR","k":"ln","s":"8La","m":11.03,"d":0.88},{"p":"BR","k":"ln","s":"8La","m":11.67,"d":0.92},{"p":"BR","k":"ln","s":"8La","m":12.22,"d":1.33},{"p":"BR","k":"ln","s":"8La","m":12.43,"d":1.86},
    {"p":"BR","k":"lab","m":10.14,"d":2.83,"t":"8"},
    {"p":"BR","k":"lab","m":12.17,"d":2.74,"t":"8"},
    {"p":"BR","k":"ln","s":"8Lb","m":10.01,"d":3.72},{"p":"BR","k":"ln","s":"8Lb","m":9.88,"d":5.13},{"p":"BR","k":"ln","s":"8Lb","m":9.96,"d":6.1},{"p":"BR","k":"ln","s":"8Lb","m":10.34,"d":6.46},{"p":"BR","k":"ln","s":"8Lb","m":10.77,"d":6.1},{"p":"BR","k":"ln","s":"8Lb","m":11.15,"d":4.96},{"p":"BR","k":"ln","s":"8Lb","m":11.72,"d":3.63},
    {"p":"BR","k":"txt","m":-26.25,"d":16.9,"t":"Cimarron River"},
    {"p":"BR","k":"txt","m":13.82,"d":13.72,"t":"Arkansas River"},
    {"p":"BR","k":"txt","m":13.95,"d":16.29,"t":"Spring, 1968"}
  ]},
  "spacing": 8,
  "vconcat": [
    {
      "spacing": 10,
      "hconcat": [
        {
          "width": 750, "height": 434,
          "transform": [{"filter": "datum.p == 'TL'"}],
          "layer": [
            {"transform": [{"filter": "datum.k == 'bed'"}],
             "mark": {"type": "line", "stroke": "black", "strokeWidth": 4.5, "interpolate": "catmull-rom", "strokeCap": "round", "strokeJoin": "round"},
             "encoding": {
               "x": {"field": "m", "type": "quantitative", "scale": {"domain": [-28.3, 28.8], "nice": false, "zero": false},
                 "axis": {"orient": "top", "values": [-25, -20, -15, -10, -5, 0, 5, 10, 15, 20, 25], "labelExpr": "abs(datum.value)", "title": "Nautical Miles Above Dam", "titleX": 356, "titleY": -56}},
               "y": {"field": "d", "type": "quantitative", "scale": {"domain": [0, 23.3], "reverse": true, "nice": false, "zero": false},
                 "axis": {"orient": "left", "values": [0, 5, 10, 15, 20], "title": "Depth (meters)", "titleX": -66, "titleY": 183}},
               "detail": {"field": "s", "type": "nominal"}, "order": {"value": null}}},
            {"transform": [{"filter": "datum.k == 'ln'"}],
             "mark": {"type": "line", "stroke": "black", "strokeWidth": 1.9, "interpolate": "catmull-rom", "strokeCap": "round", "strokeJoin": "round"},
             "encoding": {"x": {"field": "m", "type": "quantitative"}, "y": {"field": "d", "type": "quantitative"}, "detail": {"field": "s", "type": "nominal"}, "order": {"value": null}}},
            {"transform": [{"filter": "datum.k == 'lab'"}],
             "mark": {"type": "text", "fontSize": 19, "color": "black", "align": "center", "baseline": "middle"},
             "encoding": {"x": {"field": "m", "type": "quantitative"}, "y": {"field": "d", "type": "quantitative"}, "text": {"field": "t"}}},
            {"transform": [{"filter": "datum.k == 'txt'"}],
             "mark": {"type": "text", "fontSize": 27, "color": "black", "align": "left", "baseline": "middle"},
             "encoding": {"x": {"field": "m", "type": "quantitative"}, "y": {"field": "d", "type": "quantitative"}, "text": {"field": "t"}}}
          ]
        },
        {
          "width": 750, "height": 434,
          "transform": [{"filter": "datum.p == 'TR'"}],
          "layer": [
            {"transform": [{"filter": "datum.k == 'bed'"}],
             "mark": {"type": "line", "stroke": "black", "strokeWidth": 4.5, "interpolate": "catmull-rom", "strokeCap": "round", "strokeJoin": "round"},
             "encoding": {
               "x": {"field": "m", "type": "quantitative", "scale": {"domain": [-28.3, 28.8], "nice": false, "zero": false},
                 "axis": {"orient": "top", "values": [-25, -20, -15, -10, -5, 0, 5, 10, 15, 20, 25], "labelExpr": "abs(datum.value)", "title": "Nautical Miles Above Dam", "titleX": 356, "titleY": -57}},
               "y": {"field": "d", "type": "quantitative", "scale": {"domain": [0, 23.3], "reverse": true, "nice": false, "zero": false},
                 "axis": {"orient": "left", "values": [0, 5, 10, 15, 20], "title": "Depth (meters)", "titleX": -66, "titleY": 183}},
               "detail": {"field": "s", "type": "nominal"}, "order": {"value": null}}},
            {"transform": [{"filter": "datum.k == 'ln'"}],
             "mark": {"type": "line", "stroke": "black", "strokeWidth": 1.9, "interpolate": "catmull-rom", "strokeCap": "round", "strokeJoin": "round"},
             "encoding": {"x": {"field": "m", "type": "quantitative"}, "y": {"field": "d", "type": "quantitative"}, "detail": {"field": "s", "type": "nominal"}, "order": {"value": null}}},
            {"transform": [{"filter": "datum.k == 'lab'"}],
             "mark": {"type": "text", "fontSize": 19, "color": "black", "align": "center", "baseline": "middle"},
             "encoding": {"x": {"field": "m", "type": "quantitative"}, "y": {"field": "d", "type": "quantitative"}, "text": {"field": "t"}}},
            {"transform": [{"filter": "datum.k == 'txt'"}],
             "mark": {"type": "text", "fontSize": 27, "color": "black", "align": "left", "baseline": "middle"},
             "encoding": {"x": {"field": "m", "type": "quantitative"}, "y": {"field": "d", "type": "quantitative"}, "text": {"field": "t"}}}
          ]
        }
      ]
    },
    {
      "spacing": 10,
      "hconcat": [
        {
          "width": 750, "height": 420,
          "transform": [{"filter": "datum.p == 'BL'"}],
          "layer": [
            {"transform": [{"filter": "datum.k == 'bed'"}],
             "mark": {"type": "line", "stroke": "black", "strokeWidth": 4.5, "interpolate": "catmull-rom", "strokeCap": "round", "strokeJoin": "round"},
             "encoding": {
               "x": {"field": "m", "type": "quantitative", "scale": {"domain": [-28.3, 28.8], "nice": false, "zero": false},
                 "axis": {"orient": "top", "values": [-25, -20, -15, -10, -5, 0, 5, 10, 15, 20, 25], "labelExpr": "abs(datum.value)", "title": "Nautical Miles Above Dam", "titleX": 356, "titleY": -61}},
               "y": {"field": "d", "type": "quantitative", "scale": {"domain": [0, 22.55], "reverse": true, "nice": false, "zero": false},
                 "axis": {"orient": "left", "values": [0, 5, 10, 15, 20], "title": "Depth (meters)", "titleX": -66, "titleY": 172}},
               "detail": {"field": "s", "type": "nominal"}, "order": {"value": null}}},
            {"transform": [{"filter": "datum.k == 'ln'"}],
             "mark": {"type": "line", "stroke": "black", "strokeWidth": 1.9, "interpolate": "catmull-rom", "strokeCap": "round", "strokeJoin": "round"},
             "encoding": {"x": {"field": "m", "type": "quantitative"}, "y": {"field": "d", "type": "quantitative"}, "detail": {"field": "s", "type": "nominal"}, "order": {"value": null}}},
            {"transform": [{"filter": "datum.k == 'lab'"}],
             "mark": {"type": "text", "fontSize": 19, "color": "black", "align": "center", "baseline": "middle"},
             "encoding": {"x": {"field": "m", "type": "quantitative"}, "y": {"field": "d", "type": "quantitative"}, "text": {"field": "t"}}},
            {"transform": [{"filter": "datum.k == 'txt'"}],
             "mark": {"type": "text", "fontSize": 27, "color": "black", "align": "left", "baseline": "middle"},
             "encoding": {"x": {"field": "m", "type": "quantitative"}, "y": {"field": "d", "type": "quantitative"}, "text": {"field": "t"}}}
          ]
        },
        {
          "width": 750, "height": 420,
          "transform": [{"filter": "datum.p == 'BR'"}],
          "layer": [
            {"transform": [{"filter": "datum.k == 'bed'"}],
             "mark": {"type": "line", "stroke": "black", "strokeWidth": 4.5, "interpolate": "catmull-rom", "strokeCap": "round", "strokeJoin": "round"},
             "encoding": {
               "x": {"field": "m", "type": "quantitative", "scale": {"domain": [-28.3, 28.8], "nice": false, "zero": false},
                 "axis": {"orient": "top", "values": [-25, -20, -15, -10, -5, 0, 5, 10, 15, 20, 25], "labelExpr": "abs(datum.value)", "title": "Nautical Miles Above Dam", "titleX": 356, "titleY": -61}},
               "y": {"field": "d", "type": "quantitative", "scale": {"domain": [0, 22.55], "reverse": true, "nice": false, "zero": false},
                 "axis": {"orient": "left", "values": [0, 5, 10, 15, 20], "title": "Depth (meters)", "titleX": -66, "titleY": 172}},
               "detail": {"field": "s", "type": "nominal"}, "order": {"value": null}}},
            {"transform": [{"filter": "datum.k == 'ln'"}],
             "mark": {"type": "line", "stroke": "black", "strokeWidth": 1.9, "interpolate": "catmull-rom", "strokeCap": "round", "strokeJoin": "round"},
             "encoding": {"x": {"field": "m", "type": "quantitative"}, "y": {"field": "d", "type": "quantitative"}, "detail": {"field": "s", "type": "nominal"}, "order": {"value": null}}},
            {"transform": [{"filter": "datum.k == 'lab'"}],
             "mark": {"type": "text", "fontSize": 19, "color": "black", "align": "center", "baseline": "middle"},
             "encoding": {"x": {"field": "m", "type": "quantitative"}, "y": {"field": "d", "type": "quantitative"}, "text": {"field": "t"}}},
            {"transform": [{"filter": "datum.k == 'txt'"}],
             "mark": {"type": "text", "fontSize": 27, "color": "black", "align": "left", "baseline": "middle"},
             "encoding": {"x": {"field": "m", "type": "quantitative"}, "y": {"field": "d", "type": "quantitative"}, "text": {"field": "t"}}}
          ]
        }
      ]
    }
  ],
  "config": {
    "view": {"stroke": null},
    "font": "DejaVu Sans",
    "background": "white",
    "text": {"font": "DejaVu Sans"},
    "axis": {
      "titleFont": "DejaVu Sans", "titleFontSize": 28, "titleFontWeight": "normal", "titleColor": "black",
      "labelFont": "DejaVu Sans", "labelFontSize": 19, "labelColor": "black",
      "labelFlush": false, "labelOverlap": false, "grid": false,
      "tickWidth": 2.2, "tickColor": "black", "domainColor": "black", "domainWidth": 2.5
    },
    "axisTop": {"tickSize": -11, "labelPadding": 18.5, "labelBaseline": "alphabetic", "titleAlign": "center", "titleBaseline": "alphabetic"},
    "axisLeft": {"tickSize": -15, "labelPadding": 33, "titleAngle": -90, "titleAlign": "center", "titleBaseline": "middle"}
  }
}
